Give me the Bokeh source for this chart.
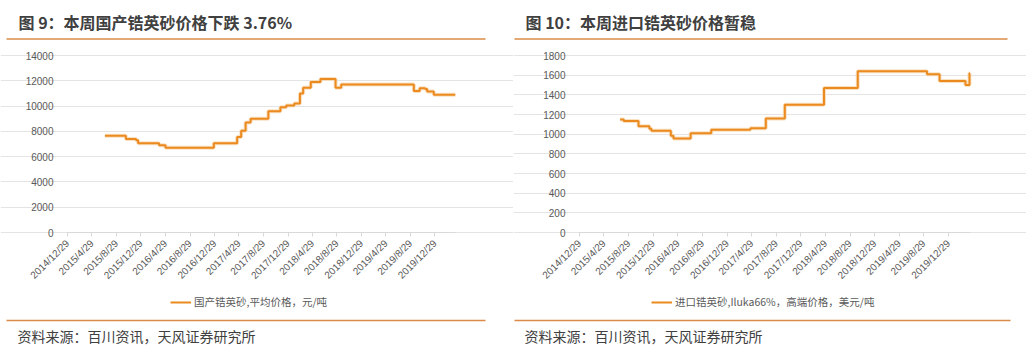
import pandas as pd
from bokeh.plotting import figure
from bokeh.layouts import column, row
from bokeh.models import Range1d, FixedTicker, CustomJSTickFormatter, Legend, LegendItem
from bokeh.core.properties import value
from bokeh.embed import file_html
from bokeh.resources import INLINE

# ---------------- data ----------------
titles = ["图 9：本周国产锆英砂价格下跌 3.76%", "图 10：本周进口锆英砂价格暂稳"]
source_text = "资料来源：百川资讯，天风证券研究所"

tick_dates = ["2014-12-29", "2015-04-29", "2015-08-29", "2015-12-29", "2016-04-29",
              "2016-08-29", "2016-12-29", "2017-04-29", "2017-08-29", "2017-12-29",
              "2018-04-29", "2018-08-29", "2018-12-29", "2019-04-29", "2019-08-29",
              "2019-12-29"]

dom_label = "国产锆英砂,平均价格，元/吨"
dom_dates = ["2015-07-03", "2015-10-15", "2015-12-05", "2015-12-15", "2016-03-28",
             "2016-04-29", "2016-12-25", "2017-04-20", "2017-05-10", "2017-06-01",
             "2017-06-26", "2017-09-22", "2017-11-21", "2017-12-20", "2018-01-29",
             "2018-02-26", "2018-03-14", "2018-04-21", "2018-06-08", "2018-08-22",
             "2018-09-19", "2019-09-15", "2019-10-14", "2019-11-10", "2019-11-20",
             "2019-12-23", "2020-04-08"]
dom_prices = [7650, 7400, 7300, 7050, 6900,
              6700, 7050, 7550, 8050, 8700,
              9000, 9600, 9900, 10050, 10200,
              11000, 11450, 11900, 12150, 11450,
              11700, 11200, 11400, 11350, 11150,
              10900, 10900]
dom_yticks = [0, 2000, 4000, 6000, 8000, 10000, 12000, 14000]

imp_label = "进口锆英砂,Iluka66%，高端价格，美元/吨"
imp_dates = ["2015-07-18", "2015-08-05", "2015-10-17", "2015-12-10", "2015-12-20",
             "2016-03-25", "2016-04-07", "2016-07-01", "2016-10-11", "2017-04-23",
             "2017-07-08", "2017-10-10", "2018-04-22", "2018-10-06", "2019-09-14",
             "2019-11-15", "2020-03-22", "2020-04-11", "2020-04-13"]
imp_prices = [1150, 1135, 1080, 1055, 1035,
              985, 955, 1010, 1045, 1060,
              1160, 1300, 1470, 1640, 1610,
              1540, 1500, 1620, 1620]
imp_yticks = [0, 200, 400, 600, 800, 1000, 1200, 1400, 1600, 1800]

# ---------------- style / layout ----------------
CJK = "Noto Sans CJK SC"
LAT = "Liberation Sans"
LINE = "#EB8A1F"
HALO = "#F8D8B2"
RULE = "#DB8B47"
TXT = "#404040"
TICK_TXT = "#595959"

CHART_W = 513
CHART_H = 267          # figure height (page y 45..312)
PLOT_TOP = 10          # value-axis top, px below figure top
AXIS_PX = 177          # pixel height of the value axis (top tick to zero)


def ms(d):
    return pd.Timestamp(d).value // 10**6


fmt_code = ("const d = new Date(tick); "
            "return d.getUTCFullYear() + '/' + (d.getUTCMonth() + 1) + '/' + d.getUTCDate();")


def make_chart(dates, prices, label, yticks, x_end, plot_left, plot_right, legend_x):
    x = pd.to_datetime(dates)
    x0, x1 = ms(tick_dates[0]), ms(x_end)
    ms_px = (x1 - x0) / (plot_right - plot_left)
    y_top = yticks[-1]
    u_px = y_top / AXIS_PX
    zero_px = PLOT_TOP + AXIS_PX
    p = figure(width=CHART_W, height=CHART_H, x_axis_type="datetime",
               output_backend="svg", toolbar_location=None,
               x_range=Range1d(x0 - plot_left * ms_px, x1 + (CHART_W - plot_right) * ms_px),
               y_range=Range1d(-(CHART_H - zero_px) * u_px, y_top + PLOT_TOP * u_px),
               min_border=0)
    p.outline_line_color = None
    p.background_fill_color = "white"
    p.border_fill_color = "white"

    p.xgrid.visible = False
    p.ygrid.grid_line_color = "#E4E4E4"
    p.ygrid.grid_line_width = 1
    p.ygrid.bounds = (x0, x1)

    p.yaxis.fixed_location = x0
    p.yaxis.ticker = FixedTicker(ticks=yticks)
    p.yaxis.axis_line_color = None
    p.yaxis.major_tick_line_color = None
    p.yaxis.minor_tick_line_color = None
    p.yaxis.major_label_standoff = 8
    p.yaxis.major_label_text_font = LAT
    p.yaxis.major_label_text_font_size = "10px"
    p.yaxis.major_label_text_color = TICK_TXT

    p.xaxis.fixed_location = yticks[0]
    p.xaxis.bounds = (x0, x1)
    p.xaxis.ticker = FixedTicker(ticks=[ms(d) for d in tick_dates])
    p.xaxis.formatter = CustomJSTickFormatter(code=fmt_code)
    p.xaxis.axis_line_color = "#D9D9D9"
    p.xaxis.major_tick_line_color = "#D9D9D9"
    p.xaxis.major_tick_out = 4
    p.xaxis.major_tick_in = 0
    p.xaxis.minor_tick_line_color = None
    p.xaxis.major_label_orientation = 0.7854
    p.xaxis.major_label_standoff = 5
    p.xaxis.major_label_text_font = LAT
    p.xaxis.major_label_text_font_size = "10px"
    p.xaxis.major_label_text_color = TICK_TXT

    p.step(x=x, y=prices, mode="after", line_color=HALO, line_width=4, line_alpha=0.8)
    r = p.step(x=x, y=prices, mode="after", line_color=LINE, line_width=2)

    legend = Legend(items=[LegendItem(label=label, renderers=[r])],
                    orientation="horizontal", location=(legend_x, 3),
                    border_line_color=None, background_fill_alpha=0,
                    label_text_font=CJK, label_text_font_size="10.5px",
                    label_text_color=TICK_TXT, glyph_width=21, glyph_height=10,
                    label_standoff=3, padding=2, margin=0, spacing=0)
    p.add_layout(legend, "center")
    return p


def make_band(height, texts, text_x, text_y, font_size, bold, rule_x0, rule_x1, rule_y):
    p = figure(width=1026, height=height, output_backend="svg", toolbar_location=None,
               x_range=Range1d(0, 1026), y_range=Range1d(height, 0),
               x_axis_location=None, y_axis_location=None,
               min_border=0)
    p.outline_line_color = None
    p.grid.visible = False
    p.background_fill_color = "white"
    p.border_fill_color = "white"
    p.segment(x0=rule_x0, y0=[rule_y] * len(rule_x0), x1=rule_x1, y1=[rule_y] * len(rule_x0),
              line_color=RULE, line_width=1.5)
    p.text(x=text_x, y=[text_y] * len(texts), text=texts,
           text_font=value(CJK), text_font_size=font_size,
           text_font_style="bold" if bold else "normal",
           text_color=TXT, text_baseline="middle", text_align="left")
    return p


header = make_band(45, titles, [18, 525], 21, "16px", True, [6, 514], [485, 1007], 38.5)
left = make_chart(dom_dates, dom_prices, dom_label, dom_yticks, "2020-04-09", 67, 455, 170)
right = make_chart(imp_dates, imp_prices, imp_label, imp_yticks, "2020-04-16", 66, 457, 138)
footer = make_band(42, [source_text, source_text], [17, 524], 23, "14px", False,
                   [6, 514], [485, 1010], 8)

layout = column(header, row(left, right), footer)

open("out.html", "w").write(file_html(layout, INLINE))
